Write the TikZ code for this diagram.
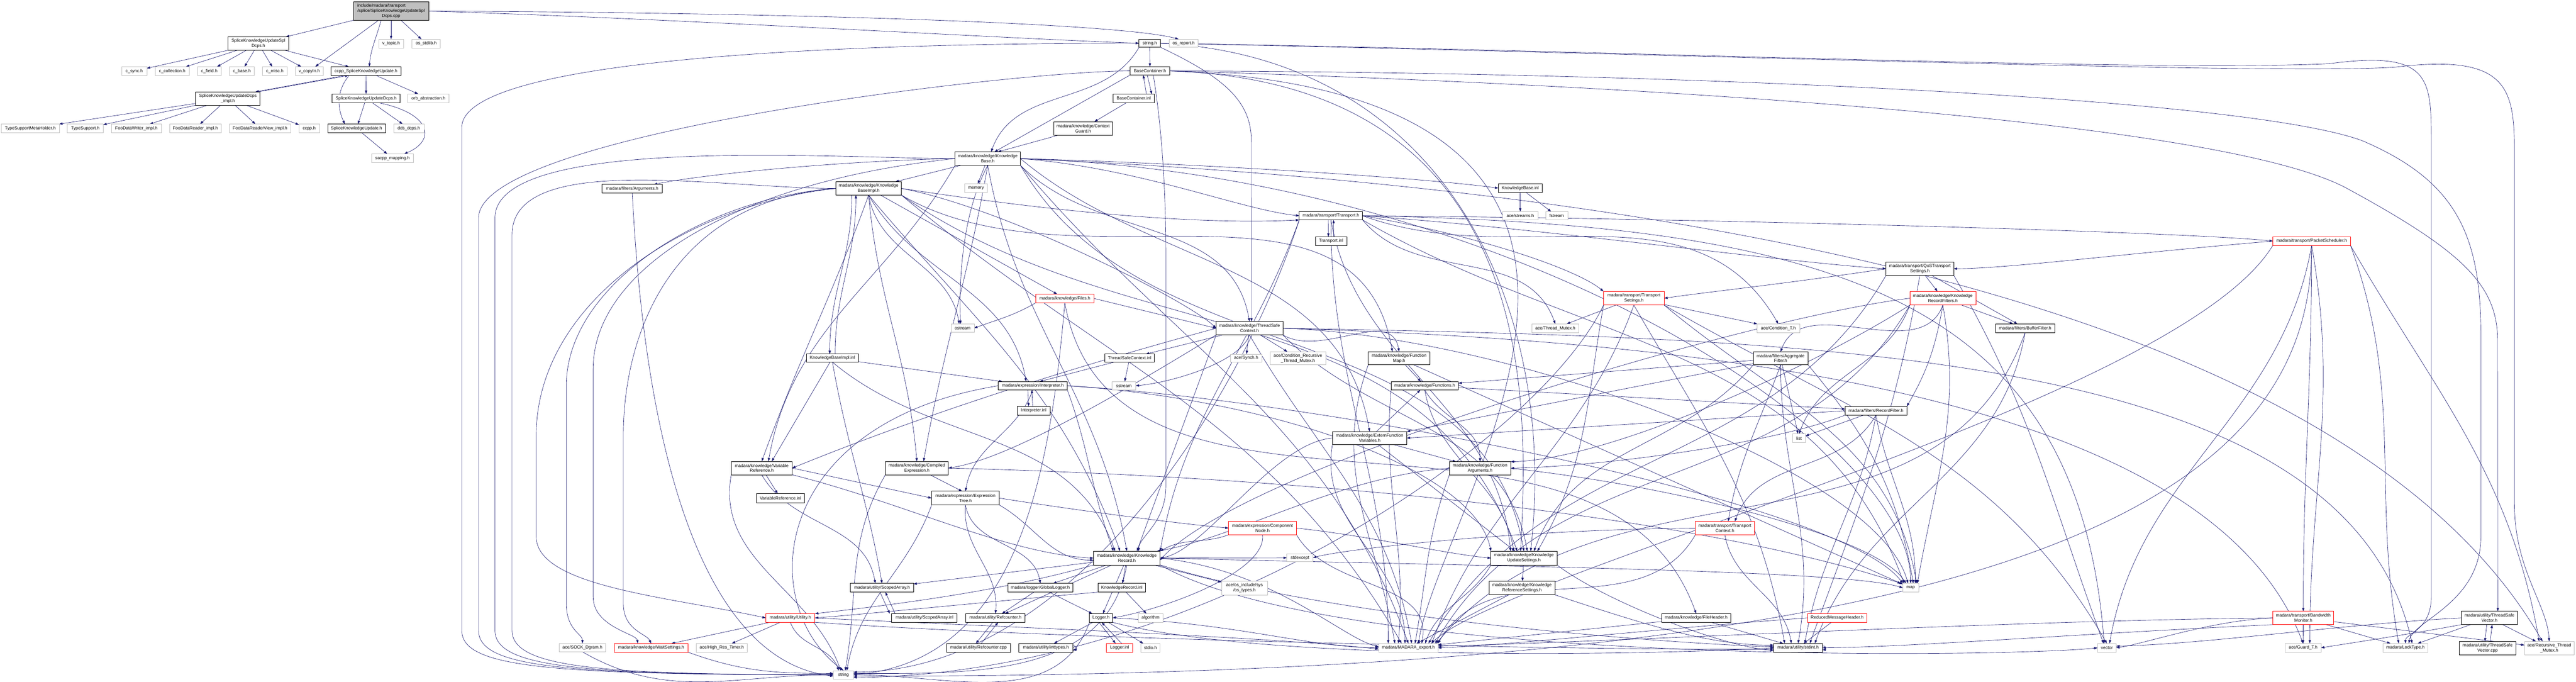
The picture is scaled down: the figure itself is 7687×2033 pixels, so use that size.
\documentclass[tikz,border=0pt]{standalone}
\usepackage{fontspec}
\setmainfont{Liberation Sans}
\usetikzlibrary{arrows.meta}
\pgfdeclarelayer{bg}
\pgfsetlayers{bg,main}
\definecolor{navy}{HTML}{191970}
\definecolor{extgray}{HTML}{BFBFBF}
\definecolor{dxred}{HTML}{FF0000}
\newlength\mnw
\newcommand{\dxn}[7]{\node[#1,minimum width={((#5)-(#3))/10},minimum height={((#6)-(#4))/10}] (#2) at ({((#3)+(#5))/2},{((#4)+(#6))/2}) {#7};}
\newcommand{\lrt}[3]{\draw[edg] (#1.west) .. controls +(-350,0) and (#2,{#3-250}) .. (#2,#3) -- (#2,1880) .. controls (#2,1990) and ({#2+250},2012) .. (string.west);}
\begin{document}
\begin{tikzpicture}[x=0.1pt,y=-0.1pt,font=\fontsize{1.3}{1.5}\selectfont,
  base/.style={inner sep=0pt,outer sep=0pt,align=center,fill=white},
  doc/.style={base,draw=black,line width=0.13pt},
  ext/.style={base,draw=extgray,line width=0.1pt},
  redn/.style={base,draw=dxred,line width=0.13pt},
  mainf/.style={base,draw=black,line width=0.13pt,fill=extgray},
  edg/.style={draw=navy,line width=0.1pt,-{Triangle[length=1pt,width=0.7pt]}},
  dn/.style={out=-90,in=90},
  up/.style={out=90,in=-90}]
\begin{pgfonlayer}{bg}
\fill[white] (0,0) rectangle (7687,2033);
\end{pgfonlayer}
\useasboundingbox (0,0) rectangle (7687,2033);
% ---------------- nodes ----------------
\dxn{mainf}{main}{1055}{5}{1279}{61}{\settowidth{\mnw}{/splice/SpliceKnowledgeUpdateSpl}\makebox[\mnw][l]{include/madara/transport}\\/splice/SpliceKnowledgeUpdateSpl\\Dcps.cpp}
\dxn{doc}{spldcpsh}{680}{110}{862}{150}{SpliceKnowledgeUpdateSpl\\Dcps.h}
\dxn{ext}{vtopic}{1130}{117}{1204}{143}{v\_topic.h}
\dxn{ext}{osstdlib}{1229}{117}{1314}{143}{os\_stdlib.h}
\dxn{ext}{csync}{363}{199}{438}{225}{c\_sync.h}
\dxn{ext}{ccoll}{463}{199}{565}{225}{c\_collection.h}
\dxn{ext}{cfield}{589}{199}{660}{225}{c\_field.h}
\dxn{ext}{cbase}{685}{199}{759}{225}{c\_base.h}
\dxn{ext}{cmisc}{783}{199}{857}{225}{c\_misc.h}
\dxn{ext}{vcopyin}{882}{199}{964}{225}{v\_copyIn.h}
\dxn{doc}{ccppsku}{988}{199}{1196}{225}{ccpp\_SpliceKnowledgeUpdate.h}
\dxn{doc}{dcpsimpl}{584}{274}{776}{314}{SpliceKnowledgeUpdateDcps\\\_impl.h}
\dxn{doc}{dcpsh}{991}{280}{1194}{307}{SpliceKnowledgeUpdateDcps.h}
\dxn{ext}{orbabs}{1217}{280}{1340}{307}{orb\_abstraction.h}
\dxn{ext}{tsmh}{4}{370}{177}{396}{TypeSupportMetaHolder.h}
\dxn{ext}{ts}{201}{370}{308}{396}{TypeSupport.h}
\dxn{ext}{fdw}{333}{370}{481}{396}{FooDataWriter\_impl.h}
\dxn{ext}{fdr}{506}{370}{660}{396}{FooDataReader\_impl.h}
\dxn{ext}{fdrv}{685}{370}{867}{396}{FooDataReaderView\_impl.h}
\dxn{ext}{ccpph}{892}{370}{953}{396}{ccpp.h}
\dxn{doc}{sku}{978}{370}{1150}{396}{SpliceKnowledgeUpdate.h}
\dxn{ext}{ddsdcps}{1175}{370}{1265}{396}{dds\_dcps.h}
\dxn{ext}{sacpp}{1109}{459}{1233}{485}{sacpp\_mapping.h}
\dxn{doc}{stringh}{3399}{117}{3463}{141}{string.h}
\dxn{ext}{osreport}{3489}{117}{3575}{141}{os\_report.h}
\dxn{doc}{basecont}{3372}{199}{3491}{224}{BaseContainer.h}
\dxn{doc}{basecontinl}{3321}{281}{3445}{306}{BaseContainer.inl}
\dxn{doc}{ctxguard}{3144}{363}{3320}{403}{madara/knowledge/Context\\Guard.h}
\dxn{doc}{kb}{2850}{453}{3045}{493}{madara/knowledge/Knowledge\\Base.h}
\dxn{doc}{kbimpl}{2494}{542}{2690}{582}{madara/knowledge/Knowledge\\BaseImpl.h}
\dxn{ext}{memory}{2879}{548}{2946}{574}{memory}
\dxn{doc}{args}{1797}{550}{1976}{575}{madara/filters/Arguments.h}
\dxn{redn}{files}{3091}{877}{3264}{903}{madara/knowledge/Files.h}
\dxn{ext}{ostream}{2838}{966}{2907}{991}{ostream}
\dxn{doc}{tsc}{3629}{959}{3828}{999}{madara/knowledge/ThreadSafe\\Context.h}
\dxn{doc}{kbinl}{4471}{548}{4602}{574}{KnowledgeBase.inl}
\dxn{doc}{transport}{3877}{631}{4066}{656}{madara/transport/Transport.h}
\dxn{doc}{transportinl}{3925}{706}{4019}{732}{Transport.inl}
\dxn{ext}{acestreams}{4484}{631}{4589}{656}{ace/streams.h}
\dxn{ext}{fstream}{4612}{631}{4678}{656}{fstream}
\dxn{doc}{qos}{5628}{782}{5830}{821}{madara/transport/QoSTransport\\Settings.h}
\dxn{redn}{krf}{5699}{869}{5896}{910}{madara/knowledge/Knowledge\\RecordFilters.h}
\dxn{redn}{tset}{4785}{869}{4966}{910}{madara/transport/Transport\\Settings.h}
\dxn{ext}{threadmutex}{4571}{966}{4711}{992}{ace/Thread\_Mutex.h}
\dxn{ext}{condt}{5243}{966}{5370}{992}{ace/Condition\_T.h}
\dxn{doc}{bufferfilter}{5955}{966}{6131}{992}{madara/filters/BufferFilter.h}
\dxn{redn}{packetsched}{6782}{706}{7014}{732}{madara/transport/PacketScheduler.h}
\dxn{doc}{kbimplinl}{2406}{1056}{2562}{1080}{KnowledgeBaseImpl.inl}
\dxn{doc}{tscinl}{3297}{1056}{3445}{1080}{ThreadSafeContext.inl}
\dxn{ext}{acesynch}{3672}{1056}{3765}{1080}{ace/Synch.h}
\dxn{ext}{condrec}{3790}{1049}{3956}{1088}{ace/Condition\_Recursive\\\_Thread\_Mutex.h}
\dxn{doc}{funcmap}{4083}{1049}{4267}{1088}{madara/knowledge/Function\\Map.h}
\dxn{doc}{aggfilter}{5232}{1049}{5395}{1088}{madara/filters/Aggregate\\Filter.h}
\dxn{doc}{interp}{2979}{1138}{3185}{1163}{madara/expression/Interpreter.h}
\dxn{ext}{sstream}{3318}{1138}{3389}{1163}{sstream}
\dxn{doc}{functions}{4151}{1138}{4352}{1163}{madara/knowledge/Functions.h}
\dxn{doc}{interpinl}{3035}{1212}{3134}{1238}{Interpreter.inl}
\dxn{doc}{recfilter}{5506}{1212}{5690}{1238}{madara/filters/RecordFilter.h}
\dxn{ext}{list}{5349}{1294}{5388}{1320}{list}
\dxn{doc}{efv}{3976}{1287}{4198}{1326}{madara/knowledge/ExternFunction\\Variables.h}
\dxn{doc}{varref}{2182}{1376}{2364}{1416}{madara/knowledge/Variable\\Reference.h}
\dxn{doc}{compexpr}{2642}{1376}{2830}{1416}{madara/knowledge/Compiled\\Expression.h}
\dxn{doc}{funcargs}{4325}{1377}{4508}{1416}{madara/knowledge/Function\\Arguments.h}
\dxn{doc}{varrefinl}{2257}{1472}{2401}{1499}{VariableReference.inl}
\dxn{doc}{exprtree}{2780}{1465}{2982}{1506}{madara/expression/Expression\\Tree.h}
\dxn{redn}{compnode}{3666}{1555}{3869}{1595}{madara/expression/Component\\Node.h}
\dxn{redn}{tctx}{5059}{1555}{5235}{1595}{madara/transport/Transport\\Context.h}
\dxn{doc}{kr}{3263}{1644}{3462}{1685}{madara/knowledge/Knowledge\\Record.h}
\dxn{ext}{stdexcept}{3840}{1652}{3918}{1675}{stdexcept}
\dxn{doc}{kus}{4449}{1644}{4646}{1685}{madara/knowledge/Knowledge\\UpdateSettings.h}
\dxn{doc}{scopedarr}{2538}{1740}{2726}{1766}{madara/utility/ScopedArray.h}
\dxn{doc}{globallogger}{3007}{1740}{3202}{1766}{madara/logger/GlobalLogger.h}
\dxn{doc}{krinl}{3277}{1740}{3418}{1766}{KnowledgeRecord.inl}
\dxn{ext}{ostypes}{3645}{1733}{3782}{1774}{ace/os\_include/sys\\/os\_types.h}
\dxn{doc}{krs}{4443}{1733}{4640}{1774}{madara/knowledge/Knowledge\\ReferenceSettings.h}
\dxn{ext}{map}{5678}{1740}{5725}{1766}{map}
\dxn{redn}{utility}{2285}{1830}{2432}{1856}{madara/utility/Utility.h}
\dxn{doc}{scopedarrinl}{2661}{1830}{2856}{1856}{madara/utility/ScopedArray.inl}
\dxn{doc}{refcounter}{2882}{1830}{3059}{1856}{madara/utility/Refcounter.h}
\dxn{doc}{logger}{3251}{1830}{3320}{1856}{Logger.h}
\dxn{ext}{algorithm}{3396}{1830}{3471}{1856}{algorithm}
\dxn{doc}{fileheader}{4959}{1830}{5164}{1856}{madara/knowledge/FileHeader.h}
\dxn{redn}{rmh}{5393}{1830}{5571}{1856}{ReducedMessageHeader.h}
\dxn{redn}{bwmon}{6782}{1823}{6964}{1863}{madara/transport/Bandwidth\\Monitor.h}
\dxn{doc}{tsvec}{7344}{1823}{7513}{1863}{madara/utility/ThreadSafe\\Vector.h}
\dxn{redn}{waitsettings}{1833}{1919}{2053}{1945}{madara/knowledge/WaitSettings.h}
\dxn{ext}{sockdgram}{1669}{1919}{1807}{1944}{ace/SOCK\_Dgram.h}
\dxn{ext}{hrtimer}{2078}{1919}{2230}{1945}{ace/High\_Res\_Timer.h}
\dxn{doc}{refcountercpp}{2825}{1919}{3015}{1945}{madara/utility/Refcounter.cpp}
\dxn{doc}{inttypes}{3040}{1919}{3202}{1945}{madara/utility/inttypes.h}
\dxn{redn}{loggerinl}{3302}{1919}{3380}{1945}{Logger.inl}
\dxn{ext}{stdio}{3405}{1919}{3461}{1945}{stdio.h}
\dxn{ext}{madaraexport}{4114}{1919}{4291}{1945}{madara/MADARA\_export.h}
\dxn{doc}{stdint}{5293}{1919}{5438}{1945}{madara/utility/stdint.h}
\dxn{ext}{vector}{6259}{1919}{6315}{1945}{vector}
\dxn{ext}{guardt}{6819}{1919}{6926}{1945}{ace/Guard\_T.h}
\dxn{ext}{locktype}{7111}{1919}{7245}{1945}{madara/LockType.h}
\dxn{doc}{tsveccpp}{7339}{1913}{7507}{1953}{madara/utility/ThreadSafe\\Vector.cpp}
\dxn{ext}{recmutex}{7533}{1913}{7681}{1953}{ace/Recursive\_Thread\\\_Mutex.h}
\dxn{ext}{string}{2487}{2000}{2547}{2025}{string}
% ---------------- edges ----------------
\begin{pgfonlayer}{bg}
% splice cluster
\draw[edg] (main) -- (spldcpsh);
\draw[edg] (main) -- (vcopyin);
\draw[edg] ([xshift=-3pt]main.south) to[out=-105,in=85] ([xshift=1pt]ccppsku.north);
\draw[edg] (main) -- (vtopic);
\draw[edg] (main) -- (osstdlib);
\draw[edg] (main.east) .. controls (2000,55) and (3000,115) .. (stringh.west);
\draw[edg] (main.east) .. controls (2400,38) and (3350,70) .. ([xshift=-1.5pt]osreport.north);
\foreach \t in {csync,ccoll,cfield,cbase,cmisc,vcopyin,ccppsku} \draw[edg] (spldcpsh) -- (\t);
\draw[edg] ([xshift=-6.2pt]ccppsku.south) -- ([xshift=-1.4pt]dcpsimpl.north east);
\draw[edg] ([xshift=-0.6pt]dcpsimpl.north east) -- ([xshift=-5.2pt]ccppsku.south);
\draw[edg] (ccppsku) -- (dcpsh);
\draw[edg] (ccppsku) -- (orbabs);
\draw[edg] ([xshift=-5pt]ccppsku.south) to[out=-130,in=115] ([xshift=-3.5pt]sku.north);
\foreach \t in {tsmh,ts,fdw,fdr,fdrv,ccpph} \draw[edg] (dcpsimpl) -- (\t);
\draw[edg] (dcpsh) -- (sku);
\draw[edg] (dcpsh) -- (ddsdcps);
\draw[edg] ([xshift=4pt]dcpsh.south) .. controls (1290,340) and (1300,420) .. ([xshift=3.5pt]sacpp.north);
\draw[edg] (sku) -- (sacpp);
% string.h / containers
\draw[edg] (stringh) -- (basecont);
\draw[edg] (stringh.south west) to[out=-120,in=70] ([xshift=1pt]kb.north);
\draw[edg] (stringh.south east) .. controls (3650,230) and (3734,300) .. (3734,420) -- ([xshift=0.6pt]tsc.north);
\lrt{stringh}{1378}{380}
\draw[edg] (stringh.east) .. controls (4800,150) and (6400,215) .. (6950,190) .. controls (7250,150) and (7255,230) .. (7255,420) -- (7255,1780) .. controls (7255,1880) and (7178,1890) .. (locktype.north);
\draw[edg] (stringh.east) .. controls (5000,160) and (6800,225) .. (7150,200) .. controls (7480,160) and (7503,260) .. (7503,450) -- (7503,1500) .. controls (7503,1700) and (7600,1800) .. (recmutex.north);
\draw[edg] (stringh.east) .. controls (4300,170) and (4650,900) .. ([xshift=2pt]kus.north);
\draw[edg] ([xshift=-0.8pt]basecont.south) -- ([xshift=-0.8pt]basecontinl.north east);
\draw[edg] ([xshift=-2.4pt]basecontinl.north east) -- ([xshift=-2pt]basecont.south);
\draw[edg] (basecont.south west) -- ([xshift=2pt]kb.north);
\draw[edg] ([xshift=1pt]basecont.south) .. controls (3470,400) and (3480,600) .. (3479,800) -- (3479,1450) .. controls (3479,1560) and (3400,1600) .. ([xshift=3.5pt]kr.north);
\lrt{basecont}{1428}{650}
\draw[edg] (basecont.east) .. controls (4600,250) and (4560,1200) .. ([xshift=-1pt]kus.north);
\draw[edg] (basecont.east) .. controls (5200,280) and (4300,1500) .. ([xshift=3pt]madaraexport.north);
\draw[edg] (basecont.east) .. controls (5000,215) and (6700,290) .. (7050,420) .. controls (7330,540) and (7403,700) .. (7403,1000) -- (7403,1600) .. controls (7403,1800) and (7200,1850) .. ([xshift=1pt]locktype.north);
\draw[edg] (basecont.east) .. controls (4800,250) and (6600,350) .. (7000,560) .. controls (7350,750) and (7453,850) .. (7453,1017) -- ([xshift=2.5pt]tsvec.north);
\draw[edg] (basecontinl) -- (ctxguard);
\draw[edg] (ctxguard) -- ([xshift=3pt]kb.north);
% KnowledgeBase.h
\draw[edg] (kb) -- (kbimpl);
\draw[edg] (kb) -- (memory);
\draw[edg] (kb.west) .. controls (2500,480) and (2100,520) .. ([xshift=-2.5pt]args.north east);
\draw[edg] (kb.south) .. controls (2880,620) and (2860,800) .. ([xshift=-0.6pt]ostream.north);
\draw[edg] (kb.east) .. controls (3500,485) and (4200,525) .. (kbinl.west);
\draw[edg] (kb.east) .. controls (3400,500) and (3700,625) .. (transport.west);
\draw[edg] (kb.south east) to[out=-45,in=100] (tsc.north);
\draw[edg] (kb.south) to[out=-80,in=100] (kr.north);
\draw[edg] (kb.south) to[out=-100,in=80] ([xshift=2pt]compexpr.north);
\draw[edg] (kb.south west) to[out=-120,in=80] ([xshift=2pt]varref.north);
\draw[edg] (kb.west) .. controls (2200,540) and (1770,800) .. (1770,1100) -- (1770,1780) .. controls (1770,1870) and (1900,1890) .. ([xshift=-4pt]waitsettings.north);
\draw[edg] (kb.south east) to[out=-60,in=100] (kus.north);
\draw[edg] (kb.south east) to[out=-50,in=110] (madaraexport.north);
\lrt{kb}{1477}{650}
\draw[edg] (kb.east) to[out=-40,in=100] (efv.north);
\draw[edg] (kb.east) .. controls (4500,520) and (5700,1300) .. (map.north);
\draw[edg] (kb.east) .. controls (5000,560) and (7000,900) .. ([xshift=-2pt]recmutex.north);
% KnowledgeBaseImpl.h
\draw[edg] ([xshift=-5pt]kbimpl.south) to[dn] ([xshift=-0.8pt]kbimplinl.north);
\draw[edg] ([xshift=0.8pt]kbimplinl.north) to[up] ([xshift=-3.8pt]kbimpl.south);
\draw[edg] (kbimpl.south) to[out=-60,in=100] ([xshift=-2pt]interp.north);
\draw[edg] (kbimpl) -- (files);
\draw[edg] (kbimpl.east) .. controls (3000,620) and (3550,900) .. (tsc.west);
\draw[edg] (kbimpl.south) to[out=-80,in=100] ([xshift=-1pt]ostream.north);
\lrt{kbimpl}{1528}{700}
\draw[edg] (kbimpl.south) to[out=-50,in=110] ([xshift=-2pt]kr.north);
\draw[edg] (kbimpl.south) to[out=-110,in=70] (varref.north);
\draw[edg] (kbimpl.south) to[out=-85,in=95] (compexpr.north);
\draw[edg] (kbimpl.west) .. controls (2000,600) and (1860,1000) .. (1860,1300) -- (1860,1800) .. controls (1860,1880) and (1930,1890) .. (waitsettings.north);
\draw[edg] (kbimpl.west) .. controls (2100,590) and (1690,850) .. (1690,1150) -- (1690,1800) .. controls (1690,1880) and (1738,1890) .. (sockdgram.north);
\draw[edg] (kbimpl.east) .. controls (3200,640) and (3600,670) .. (transport.south west);
\draw[edg] (kbimpl.south east) to[out=-40,in=120] ([xshift=-2pt]madaraexport.north);
\draw[edg] (kbimpl.south east) to[out=-30,in=100] ([xshift=-2pt]funcmap.north);
\draw[edg] (kbimpl.south east) to[out=-35,in=110] ([xshift=-2pt]kus.north);
\draw[edg] (kbimpl.west) .. controls (2050,610) and (1600,900) .. (1600,1300) -- (1600,1600) .. controls (1600,1750) and (2000,1780) .. (utility.west);
\draw[edg] (kbimplinl) -- (interp);
\draw[edg] (kbimplinl) -- ([xshift=3pt]varref.north);
\draw[edg] (kbimplinl.south) to[out=-40,in=110] ([xshift=-3.5pt]kr.north);
\draw[edg] (kbimplinl.south) to[out=-80,in=100] (scopedarr.north);
% Files.h / ThreadSafeContext.h
\draw[edg] (files.south west) to[out=-150,in=20] (ostream.east);
\draw[edg] (files.east) -- (tsc.west);
\draw[edg] (files.south) to[out=-80,in=110] (fileheader.north);
\draw[edg] (files.south) to[out=-95,in=5] (string.east);
\draw[edg] (tsc) -- (tscinl);
\draw[edg] (tsc) -- (acesynch);
\draw[edg] (tsc) -- (condrec);
\draw[edg] (tsc.south west) to[out=-110,in=70] ([xshift=3pt]kr.north);
\draw[edg] (tsc.south east) to[out=-30,in=100] (funcmap.north);
\draw[edg] (tsc.south) .. controls (3700,1080) and (3500,1140) .. (sstream.east);
\draw[edg] (tsc.south east) to[out=-45,in=100] ([xshift=1pt]kus.north);
\draw[edg] (tsc.south) to[out=-60,in=100] ([xshift=1pt]madaraexport.north);
\draw[edg] (tsc.east) .. controls (4500,1000) and (5600,1400) .. ([xshift=-0.8pt]map.north);
\draw[edg] (tsc.west) .. controls (3000,1150) and (2600,1300) .. (varref.east);
\draw[edg] (tsc.south west) .. controls (3300,1200) and (3000,1370) .. (compexpr.east);
\draw[edg] (tsc.east) .. controls (5500,1010) and (7000,1050) .. ([xshift=2pt]locktype.north);
\draw[edg] (tsc.east) .. controls (5200,1020) and (6600,1200) .. (guardt.north);
\draw[edg] (tscinl) -- (sstream);
\draw[edg] (tscinl) -- ([xshift=2pt]interp.north);
% Interpreter / expressions
\draw[edg] ([xshift=-1.5pt]interp.south) -- ([xshift=-1.5pt]interpinl.north);
\draw[edg] ([xshift=-0.3pt]interpinl.north) -- ([xshift=-0.3pt]interp.south);
\draw[edg] (interp.south) to[out=-110,in=80] (exprtree.north);
\draw[edg] (interp.south east) to[out=-70,in=110] ([xshift=-4pt]kr.north);
\draw[edg] (interp.east) .. controls (4000,1200) and (5500,1500) .. (map.north west);
\draw[edg] (interp.east) .. controls (3800,1190) and (4400,1400) .. (kus.north west);
\draw[edg] (interp.west) .. controls (2300,1260) and (2250,1800) .. (string.north);
\draw[edg] (varref) -- (varrefinl);
\draw[edg] (varref.east) -- (exprtree.west);
\draw[edg] (varref.south east) .. controls (2700,1500) and (3000,1650) .. (kr.west);
\draw[edg] (varref.south) to[out=-60,in=100] ([xshift=-2pt]scopedarr.north);
\draw[edg] (varref.south west) to[out=-100,in=110] ([xshift=-0.8pt]string.north);
\draw[edg] (compexpr) -- ([xshift=-1pt]exprtree.north);
\draw[edg] (compexpr.south west) to[out=-120,in=80] ([xshift=0.5pt]string.north);
\draw[edg] (compexpr.east) .. controls (3800,1420) and (5000,1520) .. ([xshift=-0.5pt]map.north west);
\draw[edg] (exprtree.east) .. controls (3200,1520) and (3500,1560) .. (compnode.west);
\draw[edg] (exprtree.south east) to[out=-30,in=180] ([yshift=-0.6pt]kr.west);
\draw[edg] (exprtree.south) to[out=-95,in=85] (refcounter.north);
\draw[edg] (exprtree.south) to[out=-80,in=100] (globallogger.north);
\draw[edg] (exprtree.south west) to[out=-110,in=80] ([xshift=1pt]string.north);
\draw[edg] (compnode.south west) to[out=-160,in=30] (kr.north east);
\draw[edg] (compnode.south) .. controls (3780,1700) and (3500,1810) .. (logger.east);
\draw[edg] (compnode.east) .. controls (4100,1600) and (4300,1650) .. (kus.west);
\draw[edg] (compnode.south east) to[out=-60,in=80] ([xshift=4pt]madaraexport.north);
% KnowledgeRecord.h
\draw[edg] (kr) -- (scopedarr);
\draw[edg] (kr) -- (globallogger);
\draw[edg] (kr) -- (krinl);
\draw[edg] (kr) -- (ostypes);
\draw[edg] (kr.south west) .. controls (3000,1760) and (2700,1800) .. (utility.north east);
\draw[edg] (kr) -- (refcounter);
\draw[edg] (kr) -- (logger);
\draw[edg] (kr.south) to[out=-100,in=0] ([yshift=0.4pt]string.east);
\draw[edg] (kr.east) .. controls (3800,1700) and (4000,1900) .. ([yshift=0.3pt]madaraexport.west);
\draw[edg] (kr.south east) .. controls (4000,1850) and (5000,1920) .. ([yshift=0.3pt]stdint.west);
\draw[edg] (kr.east) .. controls (4500,1690) and (5500,1700) .. (map.west);
\draw[edg] (kr.east) -- (stdexcept.west);
\draw[edg] (kr.south east) .. controls (4000,1990) and (6000,1960) .. (vector.west);
\draw[edg] (krinl) -- (algorithm);
\draw[edg] (krinl.south west) .. controls (3000,1790) and (2600,1830) .. (utility.east);
\draw[edg] (globallogger) -- (logger);
\draw[edg] (globallogger) -- (refcounter);
\draw[edg] ([xshift=-0.6pt]logger.south) -- ([xshift=-1.2pt]loggerinl.north);
\draw[edg] ([xshift=0.6pt]loggerinl.north) -- ([xshift=0.2pt]logger.south);
\draw[edg] (logger) -- (stdio);
\draw[edg] (logger) -- (inttypes);
\draw[edg] (logger.south west) to[out=-110,in=0] (string.east);
\draw[edg] (logger.east) .. controls (3700,1860) and (3900,1930) .. (madaraexport.west);
\draw[edg] (logger.south east) .. controls (3800,1980) and (5000,1950) .. (stdint.west);
\draw[edg] ([xshift=-0.8pt]refcounter.south) -- ([xshift=-0.8pt]refcountercpp.north);
\draw[edg] ([xshift=0.8pt]refcountercpp.north) -- ([xshift=0.8pt]refcounter.south);
\draw[edg] ([xshift=-0.6pt]scopedarr.south) -- ([xshift=-0.6pt]scopedarrinl.north west);
\draw[edg] ([xshift=1pt]scopedarrinl.north west) -- ([xshift=1pt]scopedarr.south);
\draw[edg] ([yshift=-0.7pt]inttypes.north east) to[out=0,in=0,looseness=2.5] ([yshift=0.7pt]inttypes.south east);
\draw[edg] ([yshift=-0.7pt]stdint.north east) to[out=0,in=0,looseness=2.5] ([yshift=0.7pt]stdint.south east);
\draw[edg] (utility) -- (waitsettings);
\draw[edg] (utility) -- (hrtimer);
\draw[edg] (utility.south) to[out=-70,in=110] ([xshift=-1.4pt]string.north);
\draw[edg] (utility.east) .. controls (3000,1870) and (3800,1900) .. ([yshift=-0.4pt]madaraexport.west);
\draw[edg] (utility.south east) .. controls (3200,1910) and (4800,1940) .. ([yshift=-0.4pt]stdint.west);
\draw[edg] (waitsettings.south east) to[out=-20,in=180] ([yshift=0.4pt]string.west);
\draw[edg] (sockdgram.south) to[out=-30,in=180] (string.west);
% Functions
\draw[edg] (funcmap) -- (functions);
\draw[edg] (funcmap) -- (map);
\draw[edg] (funcmap.south west) to[out=-110,in=100] ([xshift=-4pt]madaraexport.north);
\draw[edg] (functions.south) to[out=-60,in=90] (funcargs.north);
\draw[edg] (functions.south) to[out=-80,in=100] ([xshift=-3pt]kus.north);
\draw[edg] (functions.south west) to[out=-95,in=85] ([xshift=-3pt]madaraexport.north);
\draw[edg] (functions) -- (recfilter);
\draw[edg] (efv) -- (functions);
\draw[edg] (aggfilter) -- (functions);
\draw[edg] (aggfilter) -- (list);
\draw[edg] (aggfilter.south) to[out=-110,in=80] ([xshift=1pt]tctx.north);
\draw[edg] (aggfilter.south east) to[out=-50,in=100] ([xshift=0.8pt]map.north);
\draw[edg] (aggfilter.south west) to[out=-130,in=70] ([xshift=3pt]kus.north);
\draw[edg] (aggfilter) -- (efv.north east);
\draw[edg] (aggfilter.south) to[out=-90,in=80] (stdint.north);
\draw[edg] (krf.south) to[out=-100,in=60] (recfilter.north east);
\draw[edg] (recfilter) -- (list);
\draw[edg] (recfilter.west) -- (efv.east);
\draw[edg] (recfilter.south west) .. controls (5300,1320) and (4800,1390) .. (funcargs.east);
\draw[edg] (recfilter.south) to[out=-80,in=90] ([xshift=1.4pt]map.north);
\draw[edg] (recfilter.south) to[out=-120,in=70] ([xshift=3pt]tctx.north);
\draw[edg] (recfilter.south) to[out=-100,in=80] ([xshift=2pt]stdint.north);
\draw[edg] (efv) -- (funcargs);
\draw[edg] (efv) -- (kus);
\draw[edg] (efv.south west) to[out=-100,in=90] ([xshift=-1pt]madaraexport.north);
\draw[edg] (efv.west) .. controls (3800,1320) and (3600,1640) .. (kr.east);
\draw[edg] (funcargs.east) .. controls (5000,1450) and (5600,1600) .. ([xshift=-1.4pt]map.north);
\draw[edg] (funcargs.south west) to[out=-110,in=80] ([xshift=2pt]madaraexport.north);
\draw[edg] (funcargs.west) .. controls (4000,1420) and (3700,1600) .. ([xshift=-1pt]kr.north east);
\draw[edg] (tctx.south) to[out=-80,in=100] ([xshift=-2pt]stdint.north);
\draw[edg] (tctx.south west) to[out=-120,in=60] (madaraexport.north east);
\draw[edg] (tctx.west) .. controls (4500,1580) and (4000,1640) .. (stdexcept.east);
\draw[edg] (kus) -- (krs);
\draw[edg] (kus.south west) to[out=-120,in=70] ([xshift=5pt]madaraexport.north);
\draw[edg] (kus.south east) .. controls (4800,1800) and (5150,1930) .. ([yshift=-0.8pt]stdint.west);
\draw[edg] (krs) -- (madaraexport);
\draw[edg] (krs.south east) .. controls (4900,1860) and (5100,1925) .. ([yshift=0.8pt]stdint.west);
\draw[edg] (fileheader) -- (stdint);
\draw[edg] (fileheader) -- (madaraexport);
\draw[edg] (rmh) -- (stdint);
\draw[edg] (rmh.west) .. controls (5000,1870) and (4500,1925) .. (madaraexport.east);
% bandwidth / vector
\draw[edg] (bwmon) -- (guardt);
\draw[edg] (bwmon) -- (locktype);
\draw[edg] (bwmon) -- (recmutex);
\draw[edg] (bwmon.west) .. controls (6600,1850) and (6400,1920) .. (vector.east);
\draw[edg] (bwmon.west) .. controls (6000,1850) and (4800,1915) .. ([yshift=0.5pt]madaraexport.east);
\draw[edg] (bwmon.south west) .. controls (6200,1890) and (5700,1930) .. (stdint.east);
\draw[edg] ([xshift=-0.8pt]tsvec.south) -- ([xshift=-0.8pt]tsveccpp.north);
\draw[edg] ([xshift=0.8pt]tsveccpp.north) -- ([xshift=0.8pt]tsvec.south);
\draw[edg] (tsvec) -- (recmutex);
\draw[edg] (tsvec) -- (locktype);
\draw[edg] (tsvec.south west) .. controls (7200,1890) and (7000,1920) .. (guardt.east);
\draw[edg] (tsvec.west) .. controls (7000,1860) and (6600,1920) .. ([yshift=0.5pt]vector.east);
% transport side
\draw[edg] (packetsched.west) .. controls (6300,760) and (6000,800) .. (qos.east);
\draw[edg] (packetsched.south) to[dn] (bwmon.north);
\draw[edg] (packetsched.south) to[out=-100,in=80] ([xshift=0.8pt]vector.north);
\draw[edg] (packetsched.south west) .. controls (6500,1200) and (4500,1700) .. ([xshift=-2pt]madaraexport.north east);
\draw[edg] (packetsched.south) to[out=-80,in=90] ([xshift=2pt]guardt.north);
\draw[edg] (packetsched.south east) to[out=-60,in=100] ([xshift=-3pt]recmutex.north);
\draw[edg] (packetsched.south east) to[out=-70,in=100] ([xshift=-2pt]locktype.north);
\draw[edg] (packetsched.south) .. controls (6900,1500) and (6000,2020) .. ([yshift=-0.4pt]string.east);
\draw[edg] (qos.west) .. controls (5300,850) and (5100,870) .. (tset.east);
\draw[edg] (qos) -- (krf);
\draw[edg] (qos) -- (bufferfilter);
\draw[edg] (qos.south west) to[out=-120,in=60] ([xshift=6pt]madaraexport.north);
\draw[edg] (qos.south) to[out=-100,in=70] ([xshift=3.5pt]stdint.north);
\draw[edg] (qos.south east) to[out=-60,in=110] ([xshift=-1pt]vector.north);
\draw[edg] (tset) -- (threadmutex);
\draw[edg] (tset) -- (condt);
\draw[edg] (tset.south west) to[out=-100,in=60] ([xshift=4pt]kus.north);
\draw[edg] (tset.south east) to[out=-40,in=100] ([xshift=1.8pt]map.north);
\draw[edg] (tset.south east) to[out=-30,in=120] (vector.north);
\draw[edg] (tset.south) to[out=-60,in=100] ([xshift=-4pt]stdint.north);
\draw[edg] (tset.south west) .. controls (4600,1300) and (3600,2010) .. ([yshift=-0.8pt]string.east);
\draw[edg] (tset.south) to[out=-110,in=70] ([xshift=7pt]madaraexport.north);
\draw[edg] (krf) -- (bufferfilter);
\draw[edg] (krf.south) to[out=-110,in=70] (aggfilter.north);
\draw[edg] (krf.south west) .. controls (5400,1100) and (4800,1370) .. (funcargs.north east);
\draw[edg] (krf.south) to[out=-80,in=80] ([xshift=2pt]map.north);
\draw[edg] (krf.south west) to[out=-110,in=70] (list.north);
\draw[edg] (krf.south west) to[out=-120,in=60] ([xshift=8pt]madaraexport.north);
\draw[edg] (krf.west) .. controls (5200,950) and (3700,1400) .. ([yshift=-0.6pt]kr.east);
\draw[edg] (bufferfilter.south) to[out=-110,in=50] ([xshift=-0.5pt]madaraexport.north east);
\draw[edg] (bufferfilter.south) to[out=-100,in=70] ([xshift=5pt]stdint.north);
\draw[edg] ([xshift=-0.8pt]transport.south) -- ([xshift=-0.8pt]transportinl.north);
\draw[edg] ([xshift=0.8pt]transportinl.north) -- ([xshift=0.8pt]transport.south);
\draw[edg] (transport.south east) to[out=-50,in=110] (threadmutex.north);
\draw[edg] (transport.east) to[out=-20,in=120] (condt.north);
\draw[edg] (transport.east) .. controls (4600,680) and (5300,780) .. (qos.west);
\draw[edg] (transport.east) .. controls (4400,700) and (4700,800) .. (tset.north west);
\draw[edg] (transport.south west) to[out=-110,in=80] (kr.north east);
\draw[edg] (transport.south) to[dn] ([xshift=-6pt]madaraexport.north);
\draw[edg] (transport.east) .. controls (5000,650) and (6500,690) .. (packetsched.west);
\draw[edg] (transport.east) .. controls (5500,670) and (6200,900) .. ([xshift=-0.8pt]vector.north);
\draw[edg] (transport.south east) to[out=-30,in=110] ([xshift=-2pt]map.north);
\draw[edg] (transport.south west) .. controls (3700,1200) and (3200,2000) .. ([yshift=0.8pt]string.east);
\draw[edg] (transport.south) to[out=-80,in=95] ([xshift=-4pt]kus.north);
\draw[edg] (kbinl) -- (acestreams);
\draw[edg] (kbinl) -- (fstream);
\draw[edg] (args.south) .. controls (1900,800) and (1950,1950) .. ([yshift=-0.4pt]string.west);
\end{pgfonlayer}
\end{tikzpicture}
\end{document}
